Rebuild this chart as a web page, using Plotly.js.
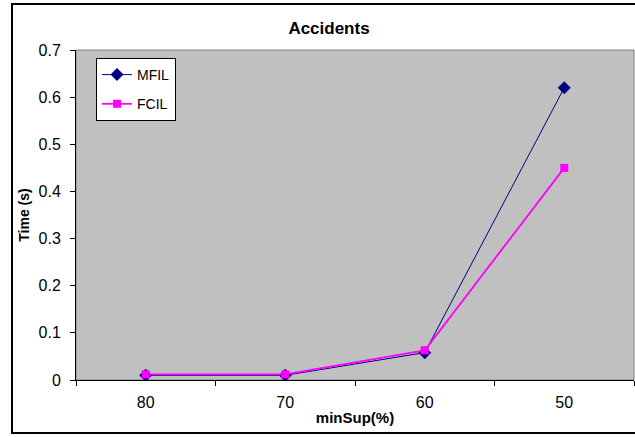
<!DOCTYPE html>
<html><head><meta charset="utf-8">
<script src="https://cdn.plot.ly/plotly-3.0.1.min.js"></script>
<style>html,body{margin:0;padding:0;background:#fff}#c{width:635px;height:437px}</style>
</head><body><div id="c"></div>
<script>
const categories = ['80', '70', '60', '50'];
const mfil = [0.01, 0.01, 0.058, 0.62];
const fcil = [0.012, 0.012, 0.063, 0.45];
const yTicks = [0, 0.1, 0.2, 0.3, 0.4, 0.5, 0.6, 0.7];
const yTickText = ['0', '0.1', '0.2', '0.3', '0.4', '0.5', '0.6', '0.7'];

const traces = [
  {x: categories, y: mfil, name: 'MFIL', legendgroup: 'a', type: 'scatter', mode: 'lines+markers',
   line: {color: '#000080', width: 1}, marker: {symbol: 'diamond', size: 10, color: '#000080'}},
  {x: categories, y: fcil, name: 'FCIL', legendgroup: 'b', type: 'scatter', mode: 'lines+markers',
   line: {color: '#FF00FF', width: 1.8}, marker: {symbol: 'square', size: 8, color: '#FF00FF'}}
];
const L = 76, R = 634, T = 50, B = 380;
const layout = {
  width: 635, height: 437,
  margin: {l: L, r: 635 - R, t: T, b: 437 - B},
  paper_bgcolor: '#fff', plot_bgcolor: '#C0C0C0',
  font: {family: 'Arial, Liberation Sans, sans-serif', size: 15, color: '#000'},
  title: {text: '<b>Accidents</b>', x: 329/635, xanchor: 'center', xref: 'container',
          y: 1 - 28/437, yanchor: 'middle', yref: 'container', font: {size: 17}},
  xaxis: {type: 'category', range: [-0.5, 3.5], showgrid: false, zeroline: false,
          showline: true, linecolor: '#000', linewidth: 1, ticks: 'outside', tickson: 'boundaries',
          ticklen: 5, tickcolor: '#000', tickfont: {size: 16}, ticklabelstandoff: 8,
          title: {text: '<b>minSup(%)</b>', font: {size: 15}, standoff: 2}},
  yaxis: {range: [0, 0.7], tickvals: yTicks, ticktext: yTickText, showgrid: false, zeroline: false,
          showline: true, linecolor: '#000', linewidth: 1, ticks: 'outside', ticklen: 5, tickcolor: '#000',
          tickfont: {size: 16}, ticklabelstandoff: 6,
          title: {text: '<b>Time (s)</b>', font: {size: 14}, standoff: 5}},
  showlegend: true,
  legend: {x: (96 - L)/(R - L), y: (B - 58)/(B - T), xanchor: 'left', yanchor: 'top',
           bgcolor: '#fff', bordercolor: '#000', borderwidth: 1, font: {size: 14},
           traceorder: 'grouped', tracegroupgap: 8},
  shapes: [
    {type: 'rect', xref: 'paper', yref: 'paper', x0: 0, x1: 1, y0: 0, y1: 1,
     line: {color: '#808080', width: 1}, layer: 'below'},
    {type: 'rect', xref: 'paper', yref: 'paper', x0: (12 - L)/(R - L), x1: (660 - L)/(R - L),
     y0: (B - 433)/(B - T), y1: (B - 4)/(B - T), line: {color: '#000', width: 2}}
  ]
};
Plotly.newPlot('c', traces, layout, {staticPlot: true});
</script></body></html>
